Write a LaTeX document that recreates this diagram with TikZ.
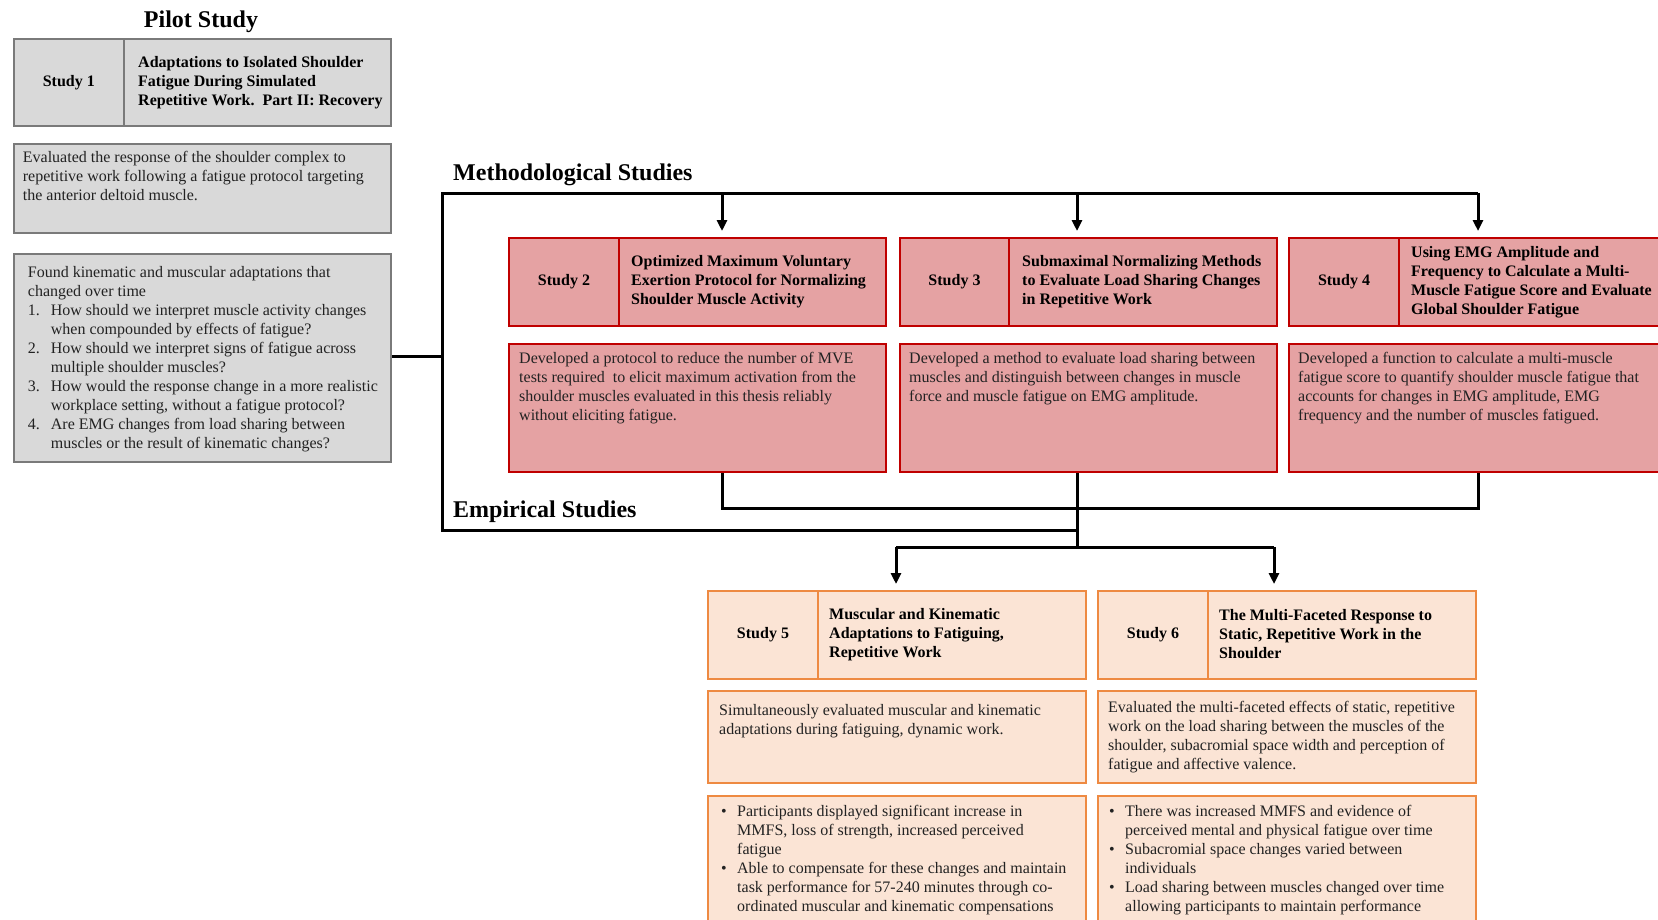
\documentclass[tikz,border=0pt]{standalone}
\usepackage{fontspec}
\setmainfont{Liberation Serif}
\usetikzlibrary{arrows.meta,calc}
\definecolor{gfill}{HTML}{D9D9D9}
\definecolor{gline}{HTML}{7A7A7A}
\definecolor{rfill}{HTML}{E5A2A3}
\definecolor{rline}{HTML}{C00000}
\definecolor{ofill}{HTML}{FBE4D5}
\definecolor{oline}{HTML}{EE8A42}
\definecolor{txt}{HTML}{222222}
\newcommand\bodyfs{\fontsize{16}{19}\selectfont}
\newcommand\headfs{\fontsize{24}{28}\selectfont\bfseries}
\newcommand\numit[1]{\makebox[23pt][l]{#1}}
\newcommand\numind{\hspace*{23pt}}
\newcommand\bul{\makebox[16pt][l]{•}}
\newcommand\bulind{\hspace*{16pt}}
\tikzset{
  cell/.style={inner sep=0pt, anchor=north west, line width=2pt},
  gcell/.style={cell, draw=gline, fill=gfill},
  rcell/.style={cell, draw=rline, fill=rfill},
  ocell/.style={cell, draw=oline, fill=ofill},
  numlbl/.style={font=\bodyfs\bfseries, text=black},
  ttl/.style={anchor=west, align=left, inner sep=0pt, font=\bodyfs\bfseries, text=black},
  body/.style={anchor=north west, align=left, inner sep=0pt, font=\bodyfs, text=txt},
  head/.style={anchor=west, inner sep=0pt, font=\headfs},
  conn/.style={line width=3pt, black},
  arr/.style={conn, -{Triangle[length=11pt,width=10pt]}, shorten >=6pt},
}
\begin{document}
\begin{tikzpicture}[x=1pt,y=-1pt]
\useasboundingbox (0,0) rectangle (1658,919);
\clip (0,0) rectangle (1658,919);

% ---------- Pilot study ----------
\node[font=\headfs] (pilot) at (201,22) {Pilot Study};
\node[gcell, numlbl, minimum width=110.3, minimum height=87] (s1n) at (12.7,38) {Study 1};
\node[gcell, minimum width=267, minimum height=87] (s1t) at (123,38) {};
\node[ttl] (s1tt) at ([shift={(15,0)}]s1t.west) {Adaptations to Isolated Shoulder\\Fatigue During Simulated\\Repetitive Work.\ \ Part II: Recovery};

\node[gcell, minimum width=377.3, minimum height=89] (g2) at (12.7,143) {};
\node[body] (g2t) at ([shift={(10,8)}]g2.north west) {Evaluated the response of the shoulder complex to\\repetitive work following a fatigue protocol targeting\\the anterior deltoid muscle.};

\node[gcell, minimum width=377.3, minimum height=208] (g3) at (12.7,253) {};
\node[body] (g3t) at ([shift={(15,13)}]g3.north west) {Found kinematic\ and muscular adaptations that\\changed over time\\
\numit{1.}How should we interpret muscle activity\ changes\\\numind when compounded by effects of fatigue?\\
\numit{2.}How should we interpret signs of fatigue across\\\numind multiple shoulder muscles?\\
\numit{3.}How would the response change in a more realistic\\\numind workplace setting, without a fatigue protocol?\\
\numit{4.}Are EMG changes from load sharing between\\\numind muscles or the result of kinematic\ changes?};

% ---------- Methodological studies ----------
\node[head] (meth) at (453,175) {Methodological Studies};

\node[rcell, numlbl, minimum width=110, minimum height=88] (s2n) at (508,237) {Study 2};
\node[rcell, minimum width=267, minimum height=88] (s2t) at (618,237) {};
\node[ttl] (s2tt) at ([shift={(13,0)}]s2t.west) {Optimized Maximum Voluntary\\Exertion Protocol for Normalizing\\Shoulder Muscle Activity};

\node[rcell, numlbl, minimum width=109, minimum height=88] (s3n) at (899,237) {Study 3};
\node[rcell, minimum width=268, minimum height=88] (s3t) at (1008,237) {};
\node[ttl] (s3tt) at ([shift={(14,0)}]s3t.west) {Submaximal Normalizing Methods\\to Evaluate Load Sharing Changes\\in Repetitive Work};

\node[rcell, numlbl, minimum width=110, minimum height=88] (s4n) at (1288,237) {Study 4};
\node[rcell, minimum width=272, minimum height=88] (s4t) at (1398,237) {};
\node[ttl] (s4tt) at ([shift={(13,0)}]s4t.west) {Using EMG Amplitude and\\Frequency to Calculate a Multi-\\Muscle Fatigue Score and Evaluate\\Global Shoulder Fatigue};

\node[rcell, minimum width=377, minimum height=128] (d2) at (508,343) {};
\node[body] (d2t) at ([shift={(11,9)}]d2.north west) {Developed a protocol to reduce the number of MVE\\tests required\ \ to elicit maximum activation from the\\shoulder muscles evaluated in this thesis reliably\\without eliciting\ fatigue.};

\node[rcell, minimum width=377, minimum height=128] (d3) at (899,343) {};
\node[body] (d3t) at ([shift={(10,9)}]d3.north west) {Developed a method to evaluate load sharing between\\muscles and distinguish between changes in muscle\\force and muscle fatigue on EMG amplitude.};

\node[rcell, minimum width=382, minimum height=128] (d4) at (1288,343) {};
\node[body] (d4t) at ([shift={(10,9)}]d4.north west) {Developed a function to calculate a multi-muscle\\fatigue score to quantify shoulder muscle fatigue that\\accounts for changes in EMG amplitude, EMG\\frequency and the number of muscles fatigued.};

% ---------- Empirical studies ----------
\node[head] (emp) at (453,512) {Empirical Studies};

\node[ocell, numlbl, minimum width=110, minimum height=88] (s5n) at (707,590) {Study 5};
\node[ocell, minimum width=268, minimum height=88] (s5t) at (817,590) {};
\node[ttl] (s5tt) at ([shift={(12,0)}]s5t.west) {Muscular and Kinematic\\Adaptations to Fatiguing,\\Repetitive Work};

\node[ocell, numlbl, minimum width=110, minimum height=88] (s6n) at (1097,590) {Study 6};
\node[ocell, minimum width=268, minimum height=88] (s6t) at (1207,590) {};
\node[ttl] (s6tt) at ([shift={(12,-1)}]s6t.west) {The Multi-Faceted Response to\\Static, Repetitive Work in the\\Shoulder};

\node[ocell, minimum width=378, minimum height=92] (e5) at (707,690) {};
\node[body] (e5t) at ([shift={(12,14)}]e5.north west) {Simultaneously evaluated\ muscular and kinematic\\adaptations during fatiguing,\ dynamic work.};

\node[ocell, minimum width=378, minimum height=92] (e6) at (1097,690) {};
\node[body] (e6t) at ([shift={(11,11)}]e6.north west) {Evaluated the multi-faceted effects of static, repetitive\\work on the load sharing between the muscles of the\\shoulder, subacromial space width and perception of\\fatigue and affective valence.};

\node[ocell, minimum width=378, minimum height=140] (r5) at (707,795) {};
\node[body] (r5t) at ([shift={(14,10)}]r5.north west) {\bul Participants displayed significant\ increase in\\\bulind MMFS, loss of strength, increased perceived\\\bulind fatigue\\\bul Able to compensate for these changes and maintain\\\bulind task performance for 57-240\ minutes through co-\\\bulind ordinated muscular and kinematic\ compensations};

\node[ocell, minimum width=378, minimum height=140] (r6) at (1097,795) {};
\node[body] (r6t) at ([shift={(12,10)}]r6.north west) {\bul There was increased MMFS and evidence of\\\bulind perceived mental and physical fatigue over time\\\bul Subacromial space changes varied between\\\bulind individuals\\\bul Load sharing between muscles changed over time\\\bulind allowing participants to maintain performance};

% ---------- Connectors ----------
\coordinate (tl) at (442,193);
\coordinate (bl) at (442,530);
\coordinate (a2) at (722,193);
\coordinate (a3) at (1077,193);
\coordinate (a4) at (1478,193);
\coordinate (k2) at (722,508);
\coordinate (k4) at (1478,508);
\coordinate (kb) at (1077,530);
\coordinate (k3) at (1077,547);
\coordinate (m5) at (896,547);
\coordinate (m6) at (1274,547);
\coordinate (g3c) at ([shift={(0,-2)}]g3.east);

\draw[conn] (g3c) -- (g3c -| tl);
\draw[conn] (kb) -- (bl) -- (tl) -- (a4);
\draw[arr] (a2) -- (a2 |- s2t.north);
\draw[arr] (a3) -- (a3 |- s3t.north);
\draw[arr] (a4) -- (a4 |- s4t.north);
\draw[conn] (k2 |- d2.south) -- (k2) -- (k4) -- (k4 |- d4.south);
\draw[conn] (k3 |- d3.south) -- (k3);
\draw[conn] (m5) -- (m6);
\draw[arr] (m5) -- (m5 |- s5t.north);
\draw[arr] (m6) -- (m6 |- s6t.north);
\end{tikzpicture}
\end{document}
